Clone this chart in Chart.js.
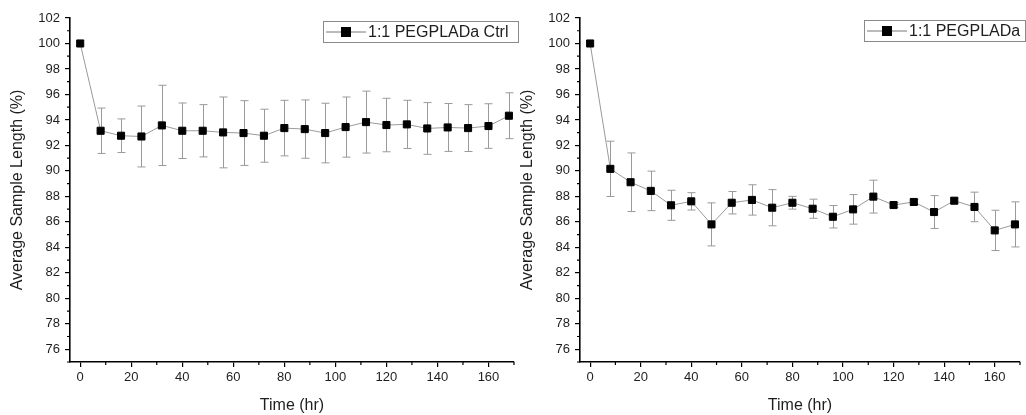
<!DOCTYPE html>
<html>
<head>
<meta charset="utf-8">
<script src="https://cdn.jsdelivr.net/npm/chart.js@4/dist/chart.umd.min.js"></script>
<style>
  html, body { margin: 0; padding: 0; background: #fff; }
  #wrap { position: relative; width: 1026px; height: 415px; overflow: hidden; }
  canvas { position: absolute; top: 0; }
  #ctrlChart { left: 0; }
  #pegChart { left: 510px; }
</style>
</head>
<body>
<div id="wrap">
  <canvas id="ctrlChart" width="520" height="415"></canvas>
  <canvas id="pegChart" width="516" height="415"></canvas>
</div>
<script>
// Sampling times (hours)
const timeHr = [0, 8, 16, 24, 32, 40, 48, 56, 64, 72, 80, 88, 96, 104, 112, 120, 128, 136, 144, 152, 160, 168];

// 1:1 PEGPLADa Ctrl: mean length (%) and error half-width
const ctrlMean = [100, 93.15, 92.76, 92.7, 93.57, 93.15, 93.15, 93.02, 92.97, 92.76, 93.36, 93.28, 92.97, 93.44, 93.83, 93.6, 93.65, 93.33, 93.41, 93.36, 93.52, 94.33];
const ctrlErr  = [0, 1.78, 1.32, 2.39, 3.15, 2.18, 2.05, 2.78, 2.54, 2.08, 2.18, 2.29, 2.34, 2.36, 2.43, 2.1, 1.89, 2.03, 1.88, 1.84, 1.75, 1.8];

// 1:1 PEGPLADa: mean length (%) and error half-width
const pegMean = [100, 90.16, 89.11, 88.43, 87.3, 87.61, 85.8, 87.5, 87.72, 87.11, 87.5, 87.03, 86.4, 86.98, 87.98, 87.32, 87.56, 86.77, 87.66, 87.17, 85.33, 85.8];
const pegErr  = [0, 2.17, 2.3, 1.55, 1.18, 0.68, 1.69, 0.88, 1.19, 1.42, 0.5, 0.75, 0.88, 1.16, 1.29, 0.2, 0.2, 1.29, 0.2, 1.16, 1.58, 1.77];

// Axis ticks
const xTickValues  = [0, 20, 40, 60, 80, 100, 120, 140, 160];
const xMinorValues = [10, 30, 50, 70, 90, 110, 130, 150, 170];
const yTickValues  = [76, 78, 80, 82, 84, 86, 88, 90, 92, 94, 96, 98, 100, 102];
const yMinorValues = [75, 77, 79, 81, 83, 85, 87, 89, 91, 93, 95, 97, 99, 101];

const FONT = "'Liberation Sans', Arial, Helvetica, sans-serif";
const TEXT = '#1e1e1e';

// Vertical error bars with caps, drawn under the markers
const errorBarPlugin = {
  id: 'errorBars',
  beforeDatasetsDraw(chart, args, opts) {
    const { ctx, scales: { x, y } } = chart;
    const ds = chart.data.datasets[0];
    const errs = opts.errors || [];
    ctx.save();
    ctx.strokeStyle = '#9a9a9a';
    ctx.lineWidth = 1;
    ds.data.forEach((pt, i) => {
      const e = errs[i];
      if (!e) return;
      const px = Math.round(x.getPixelForValue(pt.x)) + 0.5;
      const yt = y.getPixelForValue(pt.y + e);
      const yb = y.getPixelForValue(pt.y - e);
      ctx.beginPath();
      ctx.moveTo(px, yt); ctx.lineTo(px, yb);
      ctx.moveTo(px - 4, yt); ctx.lineTo(px + 4, yt);
      ctx.moveTo(px - 4, yb); ctx.lineTo(px + 4, yb);
      ctx.stroke();
    });
    ctx.restore();
  }
};

// Short minor tick marks on both axes
const minorTickPlugin = {
  id: 'minorTicks',
  afterDraw(chart) {
    const { ctx, scales: { x, y }, chartArea } = chart;
    ctx.save();
    ctx.strokeStyle = '#000';
    ctx.lineWidth = 1.2;
    ctx.beginPath();
    xMinorValues.forEach(v => {
      const px = x.getPixelForValue(v);
      ctx.moveTo(px, chartArea.bottom); ctx.lineTo(px, chartArea.bottom + 3);
    });
    yMinorValues.forEach(v => {
      const py = y.getPixelForValue(v);
      ctx.moveTo(chartArea.left, py); ctx.lineTo(chartArea.left - 3, py);
    });
    ctx.stroke();
    ctx.restore();
  }
};

// Framed legend: line sample with square marker, then the series name
const boxLegendPlugin = {
  id: 'boxLegend',
  afterDraw(chart, args, opts) {
    const { ctx } = chart;
    const { left, top, width, height, text } = opts;
    ctx.save();
    ctx.fillStyle = '#fff';
    ctx.fillRect(left, top, width, height);
    ctx.strokeStyle = '#8a8a8a';
    ctx.lineWidth = 1;
    ctx.strokeRect(left + 0.5, top + 0.5, width, height);
    const cy = top + height / 2 + 0.5;
    ctx.strokeStyle = '#777';
    ctx.beginPath();
    ctx.moveTo(left + 3, cy); ctx.lineTo(left + 43, cy);
    ctx.stroke();
    ctx.fillStyle = '#000';
    ctx.fillRect(left + 23 - 5, cy - 5, 10, 10);
    ctx.fillStyle = TEXT;
    ctx.font = '16px ' + FONT;
    ctx.textBaseline = 'middle';
    ctx.fillText(text, left + 45, cy + 1);
    ctx.restore();
  }
};

function makeChart(canvasId, label, means, errs, legendBox, rightPad) {
  const points = timeHr.map((t, i) => ({ x: t, y: means[i] }));
  return new Chart(document.getElementById(canvasId), {
    type: 'line',
    data: {
      datasets: [{
        label: label,
        data: points,
        borderColor: '#9a9a9a',
        borderWidth: 1,
        pointStyle: 'rect',
        pointRadius: 5,
        pointBackgroundColor: '#000',
        pointBorderColor: '#000',
        pointBorderWidth: 1,
        tension: 0,
        fill: false
      }]
    },
    options: {
      responsive: false,
      animation: false,
      events: [],
      layout: { padding: { top: 18, right: rightPad, left: 0, bottom: 0 } },
      plugins: {
        legend: { display: false },
        tooltip: { enabled: false },
        errorBars: { errors: errs },
        boxLegend: Object.assign({ text: label }, legendBox)
      },
      scales: {
        x: {
          type: 'linear',
          min: -4,
          max: 170,
          afterBuildTicks: s => { s.ticks = xTickValues.map(v => ({ value: v })); },
          afterFit: s => { s.height = 53; },
          grid: { drawOnChartArea: false, drawTicks: true, tickLength: 5, color: '#000', lineWidth: 1.2 },
          border: { display: true, color: '#000', width: 1.6 },
          ticks: { color: TEXT, font: { family: FONT, size: 13 }, padding: 3, maxRotation: 0, autoSkip: false },
          title: { display: true, text: 'Time (hr)', color: TEXT, font: { family: FONT, size: 16, lineHeight: 1.2 }, padding: { top: 0, bottom: 0 } }
        },
        y: {
          type: 'linear',
          min: 75,
          max: 102,
          afterBuildTicks: s => { s.ticks = yTickValues.map(v => ({ value: v })); },
          afterFit: s => { s.width = 70; },
          grid: { drawOnChartArea: false, drawTicks: true, tickLength: 5, color: '#000', lineWidth: 1.2 },
          border: { display: true, color: '#000', width: 1.6 },
          ticks: { color: TEXT, font: { family: FONT, size: 13 }, padding: 5, autoSkip: false },
          title: { display: true, text: 'Average Sample Length (%)', color: TEXT, font: { family: FONT, size: 16, lineHeight: 1.2 }, padding: { top: 8, bottom: 0 } }
        }
      }
    },
    plugins: [errorBarPlugin, minorTickPlugin, boxLegendPlugin]
  });
}

makeChart('ctrlChart', '1:1 PEGPLADa Ctrl', ctrlMean, ctrlErr, { left: 323, top: 21, width: 195, height: 21 }, 5);
makeChart('pegChart', '1:1 PEGPLADa', pegMean, pegErr, { left: 354, top: 20, width: 161, height: 21 }, 0);
</script>
</body>
</html>
